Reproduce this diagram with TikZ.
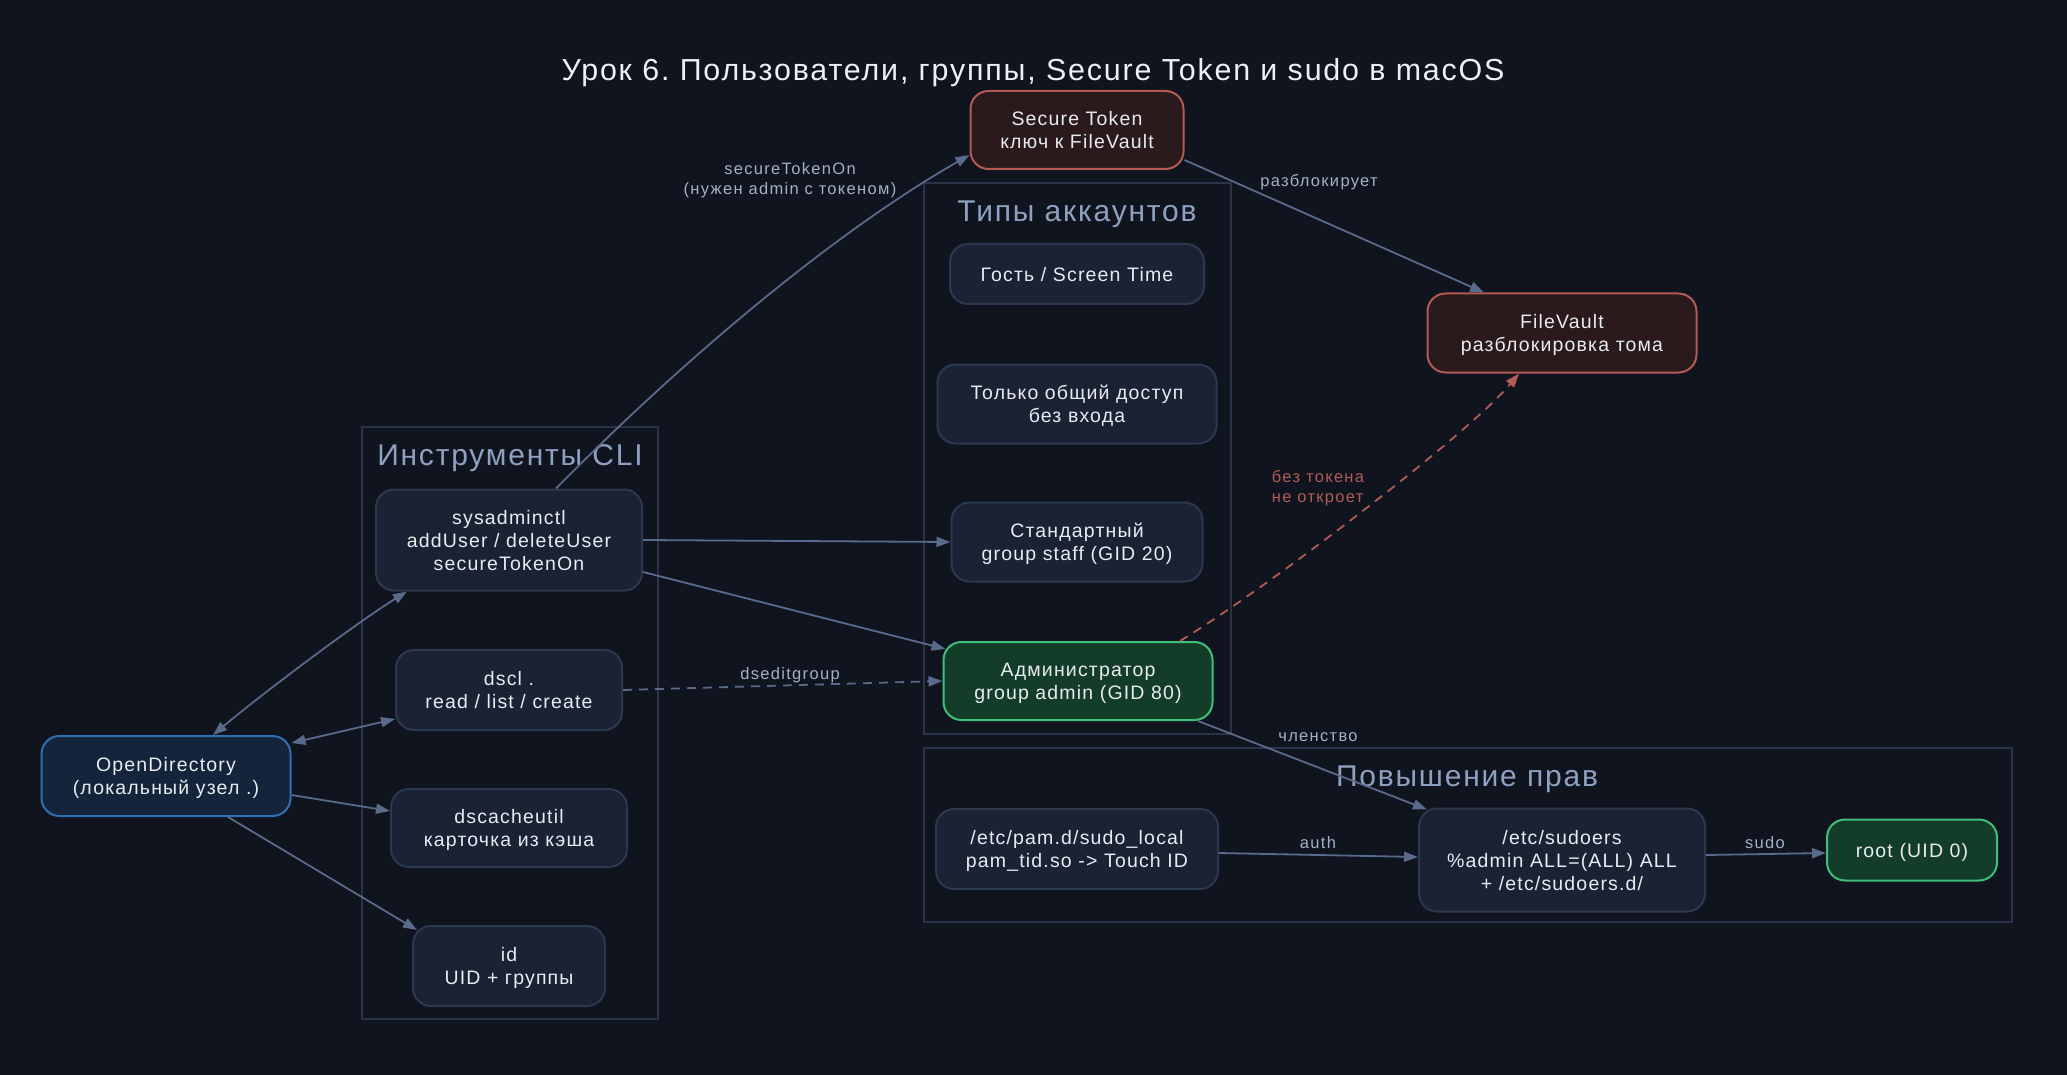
\documentclass[tikz,border=0pt]{standalone}
\usepackage{fontspec}
\setmainfont{Liberation Sans}[LetterSpace=6]
\newfontfamily\lblfont{Liberation Sans}[LetterSpace=8]
\usetikzlibrary{arrows.meta}

\definecolor{bgcol}{HTML}{0F141F}
\definecolor{boxfill}{HTML}{1B2233}
\definecolor{boxline}{HTML}{2C3850}
\definecolor{txtcol}{HTML}{E8EBF1}
\definecolor{edgecol}{HTML}{5A6A8A}
\definecolor{lblcol}{HTML}{A3B0C6}
\definecolor{clustline}{HTML}{2A3347}
\definecolor{clusttxt}{HTML}{8FA1C0}
\definecolor{redfill}{HTML}{2A1A1B}
\definecolor{redline}{HTML}{B35A55}
\definecolor{greenfill}{HTML}{143D29}
\definecolor{greenline}{HTML}{3FBF7A}
\definecolor{bluefill}{HTML}{13243B}
\definecolor{blueline}{HTML}{2F6FB4}
\definecolor{titlecol}{HTML}{EEF0F5}

\frenchspacing

\begin{document}
\begin{tikzpicture}[
    x=1pt, y=-1pt,
    >={Triangle[length=14pt,width=10pt]},
    every node/.style={font=\fontsize{19.5}{23}\selectfont, text=txtcol},
    box/.style={draw=boxline, fill=boxfill, line width=2pt,
                rounded corners=18pt, align=center, inner sep=0pt,
                text depth=-5pt},
    keybox/.style={box, draw=redline, fill=redfill},
    rootbox/.style={box, draw=greenline, fill=greenfill},
    odbox/.style={box, draw=blueline, fill=bluefill},
    edge/.style={draw=edgecol, line width=1.8pt, ->},
    elabel/.style={font=\lblfont\fontsize{16.5}{20}\selectfont, text=lblcol, align=center},
    cluster/.style={draw=clustline, line width=1.5pt},
    ctitle/.style={font=\fontsize{30}{34}\selectfont, text=clusttxt}
]

% ============================================================
% Hintergrund
% ============================================================
\fill[bgcol] (0,0) rectangle (2067,1075);
\useasboundingbox (0,0) rectangle (2067,1075);

\node[font=\fontsize{30.4}{34}\selectfont, text=titlecol] (title) at (1033,73)
    {Урок 6. Пользователи, группы, Secure Token и sudo в macOS};

% ============================================================
% Cluster
% ============================================================
\draw[cluster] (362,427) rectangle (658,1019);
\node[ctitle] (clititle) at (510,458) {Инструменты CLI};

\draw[cluster] (924,183) rectangle (1231,734);
\node[ctitle] (typestitle) at (1077,214) {Типы аккаунтов};

\draw[cluster] (924,748) rectangle (2012,922);
\node[ctitle] (privtitle) at (1467,779) {Повышение прав};

% ============================================================
% Knoten
% ============================================================
\node[odbox, minimum width=249pt, minimum height=80pt] (od) at (166,776)
    {OpenDirectory\\(локальный узел .)};

\node[box, minimum width=266pt, minimum height=101pt] (sys) at (509,540)
    {sysadminctl\\addUser / deleteUser\\secureTokenOn};
\node[box, minimum width=226pt, minimum height=80pt] (dscl) at (509,690)
    {dscl .\\read / list / create};
\node[box, minimum width=236pt, minimum height=78pt] (dcache) at (509,828)
    {dscacheutil\\карточка из кэша};
\node[box, minimum width=192pt, minimum height=80pt] (idtool) at (509,966)
    {id\\UID + группы};

\node[keybox, minimum width=213pt, minimum height=78pt] (token) at (1077,130)
    {Secure Token\\ключ к FileVault};
\node[keybox, minimum width=269pt, minimum height=79pt] (fv) at (1562,333)
    {FileVault\\разблокировка тома};

\node[box, minimum width=254pt, minimum height=60pt] (guest) at (1077,274)
    {Гость / Screen Time};
\node[box, minimum width=279pt, minimum height=79pt] (share) at (1077,404)
    {Только общий доступ\\без входа};
\node[box, minimum width=251pt, minimum height=79pt] (std) at (1077,542)
    {Стандартный\\group staff (GID 20)};
\node[rootbox, minimum width=269pt, minimum height=78pt] (adm) at (1078,681)
    {Администратор\\group admin (GID 80)};

\node[box, minimum width=282pt, minimum height=80pt] (pam) at (1077,849)
    {/etc/pam.d/sudo\_local\\pam\_tid.so -> Touch ID};
\node[box, minimum width=286pt, minimum height=103pt] (sud) at (1562,860)
    {/etc/sudoers\\\%admin ALL=(ALL) ALL\\+ /etc/sudoers.d/};
\node[rootbox, minimum width=170pt, minimum height=61pt] (root) at (1912,850)
    {root (UID 0)};

% ============================================================
% Kanten
% ============================================================
\draw[edge, <->] ([xshift=47pt]od.north) .. controls +(50,-42) and +(-50,31) ..
    ([xshift=-102pt]sys.south);
\draw[edge, <->] ([yshift=33pt]od.east) -- ([yshift=-29pt]dscl.west);
\draw[edge] ([yshift=-19pt]od.east) -- ([yshift=17pt]dcache.west);
\draw[edge] ([xshift=62pt]od.south) -- ([xshift=5pt,yshift=-5pt]idtool.north west);

\draw[edge] ([xshift=47pt]sys.north) .. controls +(120,-122) and +(-140,80) ..
    ([yshift=-25pt]token.west);
\node[elabel] (lbltoken) at (790,180) {secureTokenOn\\(нужен admin с токеном)};

\draw[edge] (sys.east) -- (std.west);
\draw[edge] ([yshift=-32pt]sys.east) -- ([xshift=3pt,yshift=-8pt]adm.north west);

\draw[edge, dashed, dash pattern=on 9pt off 7pt] (dscl.east) -- (adm.west);
\node[elabel] (lbldsedit) at (790,675) {dseditgroup};

\draw[edge] ([yshift=-30pt]token.east) -- ([xshift=-78pt]fv.north);
\node[elabel] (lblunlock) at (1319,182) {разблокирует};

\draw[edge, draw=redline, dash pattern=on 9pt off 7pt]
    ([xshift=102pt]adm.north) .. controls +(90,-55) and +(-50,60) ..
    ([xshift=-43pt]fv.south);
\node[elabel, text=redline, align=left] (lblnotoken) at (1318,488)
    {без токена\\не откроет};

\draw[edge] ([xshift=120pt]adm.south) -- ([xshift=9pt,yshift=-2pt]sud.north west);
\node[elabel] (lblmember) at (1318,737) {членство};

\draw[edge] ([yshift=-4pt]pam.east) -- ([yshift=3pt]sud.west);
\node[elabel] (lblauth) at (1318,843) {auth};

\draw[edge] ([yshift=5pt]sud.east) -- ([yshift=-3pt]root.west);
\node[elabel] (lblsudo) at (1765,843) {sudo};

\end{tikzpicture}
\end{document}
